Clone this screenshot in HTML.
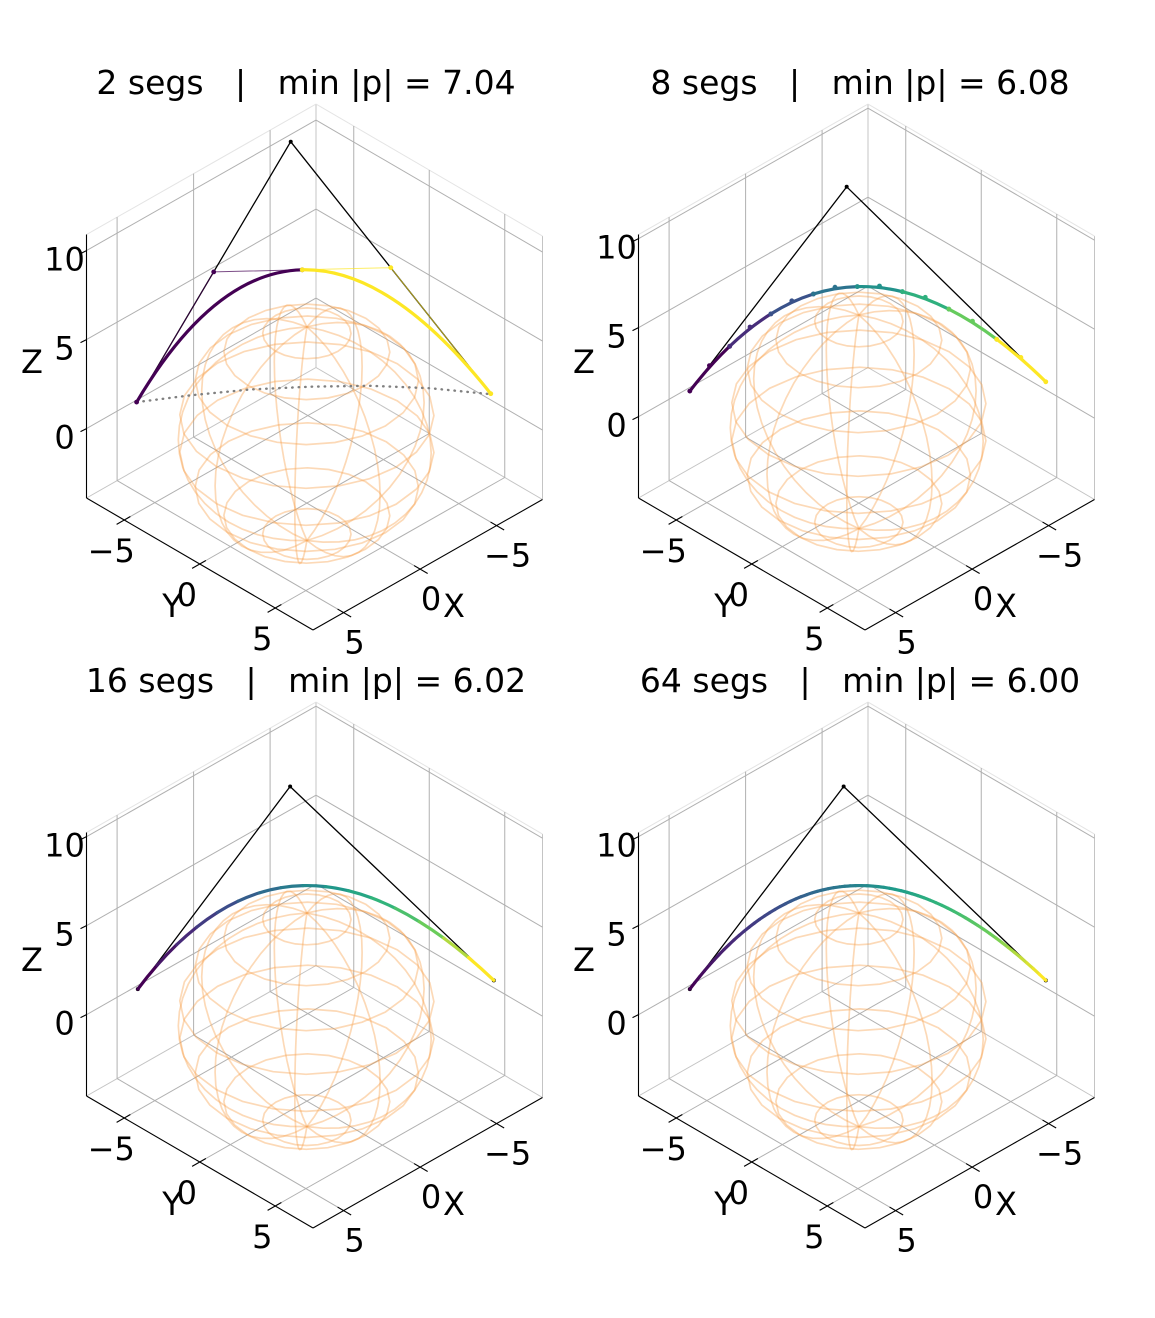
<!DOCTYPE html>
<html><head><meta charset="utf-8">
<style>
html,body{margin:0;padding:0;background:#fff;}
svg{display:block;font-family:"DejaVu Sans","Liberation Sans",sans-serif;}
text{white-space:pre;}
</style></head>
<body>
<svg id="chart" xmlns="http://www.w3.org/2000/svg" width="1155" height="1318" viewBox="0 0 1155 1318">
<rect x="0" y="0" width="1155" height="1318" fill="#fff"/>
<text x="306" y="94" font-size="33" text-anchor="middle">2 segs   |   min |p| = 7.04</text>
<text x="860" y="94" font-size="33" text-anchor="middle">8 segs   |   min |p| = 6.08</text>
<text x="306" y="692" font-size="33" text-anchor="middle">16 segs   |   min |p| = 6.02</text>
<text x="860" y="692" font-size="33" text-anchor="middle">64 segs   |   min |p| = 6.00</text>
</svg>
<script>
// ---- data ----
const segCounts = [2, 8, 16, 64];
const startPts = [[5.6,-5.6,1.74],[5.56,-5.56,1.69],[5.56,-5.56,1.69],[5.56,-5.56,1.69]];
const ctrlPts  = [[0.53,-0.53,16.4],[0.4,-0.4,13.2],[0.55,-0.55,13.1],[0.5,-0.5,13.1]];
const endPts   = [[-6.05,6.05,2.28],[-6.15,6.15,2.28],[-6.15,6.15,2.25],[-6.15,6.15,2.25]];
const zMins = [-3.9, -4.57, -4.57, -4.57];
const xTicks = [-5, 0, 5];
const yTicks = [-5, 0, 5];
const zTicks = [0, 5, 10];
const xTickLabels = ["\u22125", "0", "5"];
const yTickLabels = ["\u22125", "0", "5"];
const zTickLabels = ["0", "5", "10"];
const dottedX = [5.59, 3.85, 1.88, -0.10, -2.07, -4.05, -6.05];
const dottedZ = [1.74, 2.13, 2.47, 2.64, 2.70, 2.58, 2.25];
const sphereR = 6;

const XMIN=-8, XMAX=7, YMIN=-7.5, YMAX=7.5, ZRANGE=14.8;
const offs = [[0,0],[552,0],[0,598],[552,598]];
const NS = "http://www.w3.org/2000/svg";
const svg = document.getElementById('chart');

function P(i, x, y, z) {
  const o = offs[i], zmin = zMins[i];
  return [o[0] + 313 + 15.3*(7-x) - 15.1*(7.5-y),
          o[1] + 630 - 8.7*(7-x) - 8.8*(7.5-y) - 17.8*(z - zmin)];
}
function mk(tag, parent, attrs) {
  const el = document.createElementNS(NS, tag);
  for (const k in attrs) el.setAttribute(k, attrs[k]);
  parent.appendChild(el);
  return el;
}
function ln(g, a, b, stroke, w, name, extra) {
  const el = mk('line', g, Object.assign({x1:a[0].toFixed(2), y1:a[1].toFixed(2), x2:b[0].toFixed(2), y2:b[1].toFixed(2), stroke:stroke, 'stroke-width':w}, extra||{}));
  
  
  return el;
}
function txt(g, x, y, s, size, name) {
  const el = mk('text', g, {x:x, y:y, 'font-size':size, 'text-anchor':'middle', 'dominant-baseline':'central'});
  el.textContent = s;
  
  
  return el;
}
const vstops = ["#440154","#482878","#3e4989","#31688e","#26828e","#1f9e89","#35b779","#6ece58","#fde725"];
function hex2(h){return [1,3,5].map(i=>parseInt(h.substr(i,2),16));}
function viridis(t){
  t=Math.max(0,Math.min(1,t)); const f=t*8, i=Math.min(7,Math.floor(f)), r=f-i;
  const a=hex2(vstops[i]), b=hex2(vstops[i+1]);
  return 'rgb('+a.map((v,k)=>Math.round(v+(b[k]-v)*r)).join(',')+')';
}
function bez(A,C,B,t){return [0,1,2].map(k=>(1-t)*(1-t)*A[k]+2*(1-t)*t*C[k]+t*t*B[k]);}
function subCtrl(A,C,B,t0,t1){return [0,1,2].map(k=>(1-t0)*(1-t1)*A[k]+((1-t0)*t1+t0*(1-t1))*C[k]+t0*t1*B[k]);}

for (let i=0;i<4;i++){
  const g = mk('g', svg, {});
  
  
  const zmin = zMins[i], zmax = zmin + ZRANGE;
  const edge='#c4c4c4', topEdge='#e4e4e4';
  ln(g, P(i,XMIN,YMIN,zmin), P(i,XMAX,YMIN,zmin), edge, 1, 'pane-edge');
  ln(g, P(i,XMIN,YMIN,zmin), P(i,XMIN,YMAX,zmin), edge, 1, 'pane-edge');
  ln(g, P(i,XMIN,YMIN,zmin), P(i,XMIN,YMIN,zmax), edge, 1, 'pane-edge');
  ln(g, P(i,XMIN,YMAX,zmin), P(i,XMIN,YMAX,zmax), edge, 1, 'pane-edge');
  ln(g, P(i,XMIN,YMIN,zmax), P(i,XMAX,YMIN,zmax), topEdge, 1, 'pane-edge');
  ln(g, P(i,XMIN,YMIN,zmax), P(i,XMIN,YMAX,zmax), topEdge, 1, 'pane-edge');
  const gc='#b0b0b0';
  zTicks.forEach(z=>{
    ln(g, P(i,XMAX,YMIN,z), P(i,XMIN,YMIN,z), gc, 1, 'z-gridline');
    ln(g, P(i,XMIN,YMIN,z), P(i,XMIN,YMAX,z), gc, 1, 'z-gridline');
  });
  xTicks.forEach(x=>{
    ln(g, P(i,x,YMIN,zmin), P(i,x,YMAX,zmin), gc, 1, 'x-gridline');
    ln(g, P(i,x,YMIN,zmin), P(i,x,YMIN,zmax), gc, 1, 'x-gridline');
  });
  yTicks.forEach(y=>{
    ln(g, P(i,XMIN,y,zmin), P(i,XMAX,y,zmin), gc, 1, 'y-gridline');
    ln(g, P(i,XMIN,y,zmin), P(i,XMIN,y,zmax), gc, 1, 'y-gridline');
  });
  const sg = mk('g', g, {fill:'none', stroke:'#f7a04a', 'stroke-width':1.7, 'stroke-opacity':0.4});
  
  
  const NU=9, NV=9, SAMP=24, PH0=0;
  for (let k=0;k<NU;k++){
    const ph=PH0+2*Math.PI*k/NU; let d='';
    for (let s=0;s<=SAMP;s++){ const th=Math.PI*s/SAMP;
      const p=P(i, sphereR*Math.sin(th)*Math.cos(ph), sphereR*Math.sin(th)*Math.sin(ph), sphereR*Math.cos(th));
      d+=(s?'L':'M')+p[0].toFixed(1)+' '+p[1].toFixed(1);}
    const el=mk('path', sg, {d:d});
    
    
  }
  for (let j=1;j<NV;j++){
    const th=Math.PI*j/NV; let d='';
    for (let s=0;s<=SAMP;s++){ const ph=2*Math.PI*s/SAMP;
      const p=P(i, sphereR*Math.sin(th)*Math.cos(ph), sphereR*Math.sin(th)*Math.sin(ph), sphereR*Math.cos(th));
      d+=(s?'L':'M')+p[0].toFixed(1)+' '+p[1].toFixed(1);}
    const el=mk('path', sg, {d:d});
    
    
  }
  ln(g, P(i,XMAX,YMIN,zmin), P(i,XMAX,YMIN,zmax), '#000', 1.1, 'z-axis-line');
  ln(g, P(i,XMIN,YMAX,zmin), P(i,XMAX,YMAX,zmin), '#000', 1.1, 'x-axis-line');
  ln(g, P(i,XMAX,YMIN,zmin), P(i,XMAX,YMAX,zmin), '#000', 1.1, 'y-axis-line');
  xTicks.forEach((x,k)=>{
    const a=P(i,x,YMAX-0.4,zmin), b=P(i,x,YMAX+0.5,zmin);
    ln(g, a, b, '#000', 1.1, 'x-tick');
    const t=P(i,x,YMAX,zmin);
    txt(g, t[0]+11, t[1]+30, xTickLabels[k], 32, 'x-tick-label');
  });
  yTicks.forEach((y,k)=>{
    const a=P(i,XMAX-0.4,y,zmin), b=P(i,XMAX+0.5,y,zmin);
    ln(g, a, b, '#000', 1.1, 'y-tick');
    const t=P(i,XMAX,y,zmin);
    txt(g, t[0]-13, t[1]+31, yTickLabels[k], 32, 'y-tick-label');
  });
  zTicks.forEach((z,k)=>{
    const t=P(i,XMAX,YMIN,z);
    ln(g, t, [t[0]-6,t[1]+3], '#000', 1.1, 'z-tick');
    txt(g, t[0]-22, t[1]+9, zTickLabels[k], 32, 'z-tick-label');
  });
  txt(g, offs[i][0]+32, offs[i][1]+362, 'Z', 32, 'z-axis-title');
  txt(g, offs[i][0]+172, offs[i][1]+606, 'Y', 32, 'y-axis-title');
  txt(g, offs[i][0]+454, offs[i][1]+606, 'X', 32, 'x-axis-title');

  const A=startPts[i], C=ctrlPts[i], B=endPts[i], n=segCounts[i];
  if (i===0){
    let d='';
    dottedX.forEach((x,k)=>{const p=P(i,x,-x,dottedZ[k]); d+=(k?'L':'M')+p[0].toFixed(1)+' '+p[1].toFixed(1);});
    const dp=mk('path', g, {d:d, fill:'none', stroke:'#808080', 'stroke-width':2.4, 'stroke-dasharray':'0.5 6', 'stroke-linecap':'round'});
    
    
  }
  const pa=P(i,...A), pc=P(i,...C), pb=P(i,...B);
  const poly=mk('polyline', g, {points:[pa,pc,pb].map(p=>p[0].toFixed(1)+','+p[1].toFixed(1)).join(' '), fill:'none', stroke:'#000', 'stroke-width':1.3});
  
  
  [pa,pc,pb].forEach(p=>{
    const c=mk('circle', g, {cx:p[0], cy:p[1], r:2, fill:'#000'});
    
    
  });
  for (let k=0;k<n;k++){
    const t0=k/n, t1=(k+1)/n;
    const p0=P(i,...bez(A,C,B,t0)), q=P(i,...subCtrl(A,C,B,t0,t1)), p1=P(i,...bez(A,C,B,t1));
    const col=viridis(n>1?k/(n-1):0);
    if (n<=8){
      const cp=mk('polyline', g, {points:[p0,q,p1].map(p=>p[0].toFixed(1)+','+p[1].toFixed(1)).join(' '), fill:'none', stroke:col, 'stroke-width':1, 'stroke-opacity':0.7});
      
      
    }
    const path=mk('path', g, {d:'M'+p0[0].toFixed(2)+' '+p0[1].toFixed(2)+'Q'+q[0].toFixed(2)+' '+q[1].toFixed(2)+' '+p1[0].toFixed(2)+' '+p1[1].toFixed(2), fill:'none', stroke:col, 'stroke-width':3.2, 'stroke-linecap':'round'});
    
    
    if (n<=8){
      [p0,q,p1].forEach(p=>{
        const c=mk('circle', g, {cx:p[0].toFixed(1), cy:p[1].toFixed(1), r:2.4, fill:col});
        
        
      });
    }
  }
}
</script>
</body></html>
